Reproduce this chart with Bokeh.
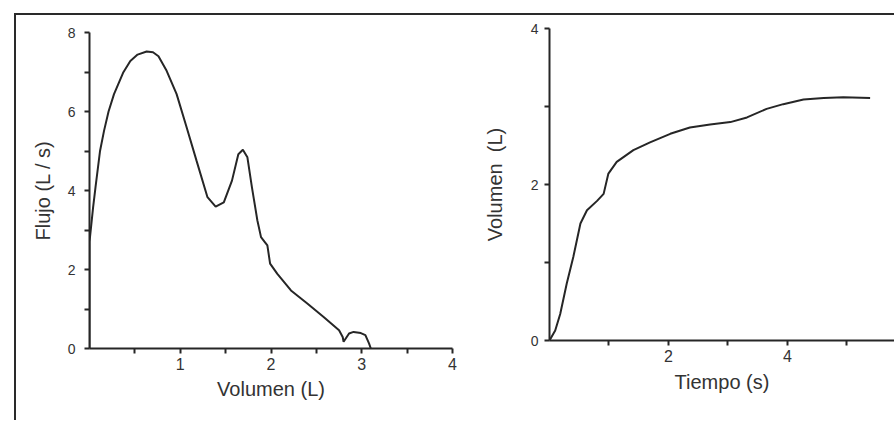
from bokeh.plotting import figure
from bokeh.layouts import row, column, Spacer
from bokeh.models import FixedTicker, Range1d
from bokeh.embed import file_html
from bokeh.resources import INLINE

# ---- data ----
volumen_fv = [0.0, 0.0, 0.04, 0.066, 0.116, 0.16, 0.21, 0.27, 0.37, 0.45, 0.53, 0.63,
              0.70, 0.76, 0.85, 0.96, 1.07, 1.18, 1.30, 1.39, 1.48, 1.57, 1.64, 1.69,
              1.74, 1.79, 1.85, 1.89, 1.93, 1.96, 1.99, 2.07, 2.22, 2.40, 2.58, 2.75,
              2.79, 2.80, 2.86, 2.91, 2.99, 3.04, 3.08, 3.10]
flujo = [0.0, 2.7, 3.58, 4.08, 5.0, 5.51, 6.0, 6.44, 6.98, 7.28, 7.44, 7.52,
         7.50, 7.40, 7.03, 6.44, 5.6, 4.75, 3.83, 3.59, 3.7, 4.25, 4.92, 5.03,
         4.84, 4.08, 3.24, 2.82, 2.70, 2.61, 2.15, 1.89, 1.47, 1.14, 0.80, 0.46,
         0.29, 0.17, 0.38, 0.42, 0.39, 0.34, 0.13, 0.0]

tiempo = [0.0, 0.096, 0.18, 0.29, 0.40, 0.52, 0.63, 0.80, 0.91, 0.99, 1.13, 1.41,
          1.69, 2.03, 2.36, 2.70, 3.04, 3.32, 3.65, 3.93, 4.27, 4.61, 4.94, 5.39]
volumen_t = [0.0, 0.128, 0.34, 0.73, 1.07, 1.50, 1.67, 1.79, 1.88, 2.14, 2.29, 2.44,
             2.54, 2.65, 2.73, 2.77, 2.80, 2.86, 2.97, 3.03, 3.09, 3.11, 3.12, 3.11]

x1_major = [1, 2, 3, 4]
x1_minor = [0.5, 1.5, 2.5, 3.5]
y1_major = [0, 2, 4, 6, 8]
y1_minor = [1, 3, 5, 7]
x2_major = [2, 4]
x2_minor = [1, 3, 5]
y2_major = [0, 2, 4]
y2_minor = [1, 3]

INK = "#262626"
TXT = "#333333"
FONT = "Liberation Sans"


def style_axis(ax, label, major, minor, tick_size, label_standoff, axis_standoff):
    ax.ticker = FixedTicker(ticks=major, minor_ticks=minor)
    ax.axis_label = label
    ax.axis_line_color = INK
    ax.axis_line_width = 2
    ax.major_tick_line_color = INK
    ax.major_tick_line_width = 2
    ax.major_tick_out = 5
    ax.major_tick_in = 0
    ax.minor_tick_line_color = INK
    ax.minor_tick_line_width = 2
    ax.minor_tick_out = 5
    ax.minor_tick_in = 0
    ax.major_label_text_font = FONT
    ax.major_label_text_font_size = tick_size
    ax.major_label_text_color = TXT
    ax.major_label_standoff = label_standoff
    ax.axis_label_text_font = FONT
    ax.axis_label_text_font_size = "20px"
    ax.axis_label_text_font_style = "normal"
    ax.axis_label_text_color = TXT
    ax.axis_label_standoff = axis_standoff


def base_fig(width, height, xr, yr, bl, br, bt, bb):
    p = figure(width=width, height=height, x_range=xr, y_range=yr,
               output_backend="svg", toolbar_location=None,
               min_border_left=bl, min_border_right=br,
               min_border_top=bt, min_border_bottom=bb)
    p.frame_align = False
    p.outline_line_color = None
    p.grid.visible = False
    p.background_fill_color = "white"
    p.border_fill_color = "white"
    return p


# Left: flow-volume curve
p1 = base_fig(462, 405, Range1d(0, 4), Range1d(0, 8), 73, 26, 17, 72)
p1.line(volumen_fv, flujo, line_color=INK, line_width=2)
style_axis(p1.xaxis[0], "Volumen (L)", x1_major, x1_minor, "16px", 4, 5)
style_axis(p1.yaxis[0], "Flujo (L / s)", y1_major, y1_minor, "14px", 9, 11)

# Right: volume-time curve
p2 = base_fig(416, 405, Range1d(0, 5.80), Range1d(0, 4), 71, 0, 13, 80)
p2.line(tiempo, volumen_t, line_color=INK, line_width=2)
style_axis(p2.xaxis[0], "Tiempo (s)", x2_major, x2_minor, "16px", 4, 6)
style_axis(p2.yaxis[0], "Volumen\u00a0 (L)", y2_major, y2_minor, "14px", 6, 22)

framed = row(p1, p2,
             styles={"border-top": "2px solid #2a2a2a", "border-left": "2px solid #2a2a2a"})
layout = column(Spacer(height=13), row(Spacer(width=14), framed))

open("out.html", "w").write(file_html(layout, INLINE))
